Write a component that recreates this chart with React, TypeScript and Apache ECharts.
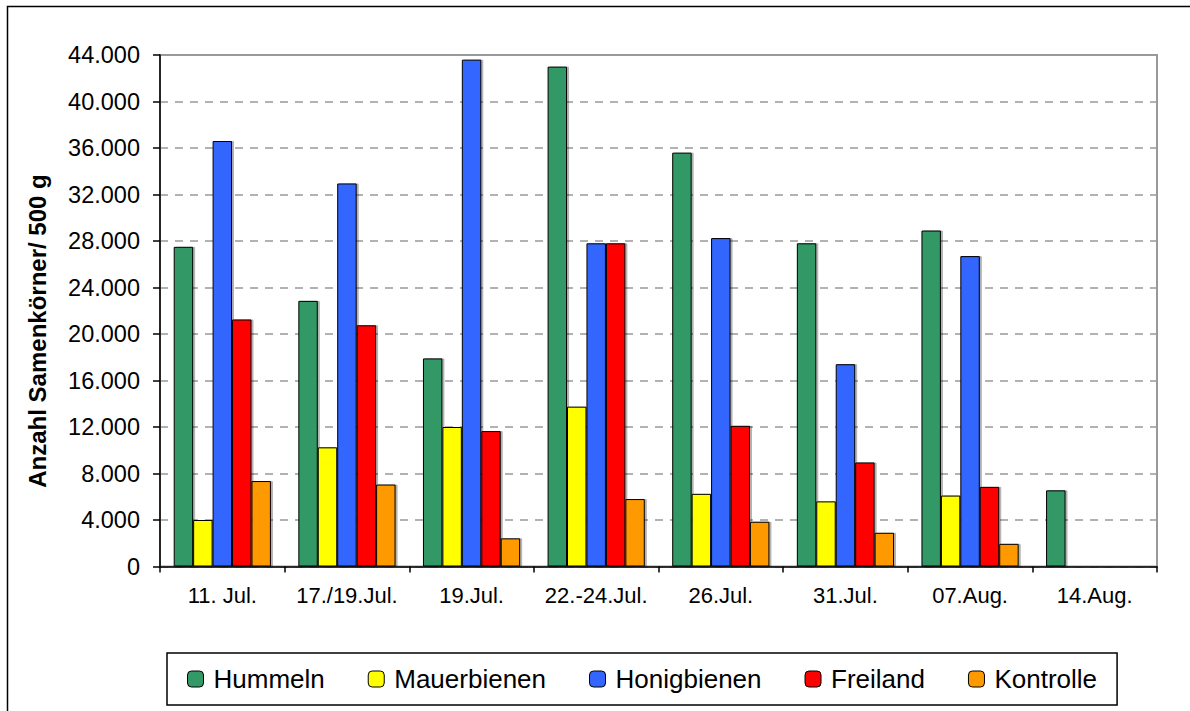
import React, { useEffect, useRef } from "react";
import * as echarts from "echarts";

const categories = ["11. Jul.", "17./19.Jul.", "19.Jul.", "22.-24.Jul.", "26.Jul.", "31.Jul.", "07.Aug.", "14.Aug."];
const hummeln = [27500, 22850, 17900, 43000, 35600, 27800, 28900, 6550];
const mauerbienen = [4000, 10250, 12000, 13750, 6250, 5600, 6100, null];
const honigbienen = [36600, 32950, 43600, 27800, 28250, 17400, 26700, null];
const freiland = [21250, 20750, 11650, 27800, 12100, 8950, 6850, null];
const kontrolle = [7350, 7050, 2420, 5800, 3850, 2900, 1950, null];

const seriesNames = ["Hummeln", "Mauerbienen", "Honigbienen", "Freiland", "Kontrolle"];
const seriesColors = ["#339966", "#FFFF00", "#3366FF", "#FF0000", "#FF9900"];
const seriesData = [hummeln, mauerbienen, honigbienen, freiland, kontrolle];

const yTicksMax = 44000;
const yTickStep = 4000;
const yAxisTitle = "Anzahl Samenkörner/ 500 g";

function fmt(v: number): string {
  if (v === 0) return "0";
  const s = String(Math.round(v));
  return s.replace(/\B(?=(\d{3})+(?!\d))/g, ".");
}

export default function App() {
  const ref = useRef<HTMLDivElement>(null);
  useEffect(() => {
    if (!ref.current) return;
    const chart = echarts.init(ref.current, undefined, { renderer: "svg" });
    const font = "Liberation Sans, Arial, sans-serif";
    chart.setOption({
      animation: false,
      backgroundColor: "#ffffff",
      textStyle: { fontFamily: font },
      grid: {
        left: 160,
        top: 55,
        right: 33,
        bottom: 144.5,
        show: true,
        borderColor: "#999999",
        borderWidth: 2,
        backgroundColor: "transparent",
      },
      graphic: [
        {
          type: "rect",
          shape: { x: 7.5, y: 6.5, width: 1200, height: 720 },
          style: { fill: "none", stroke: "#000", lineWidth: 1.5 },
          silent: true,
        },
        {
          type: "text",
          x: 37,
          y: 331,
          rotation: Math.PI / 2,
          style: {
            text: yAxisTitle,
            fontFamily: font,
            fontSize: 24,
            fontWeight: "bold",
            fill: "#000",
            textAlign: "center",
            textVerticalAlign: "middle",
          },
        },
      ],
      legend: {
        left: 167,
        top: 653,
        orient: "horizontal",
        padding: [13, 20, 13, 20],
        itemGap: 43,
        itemWidth: 16,
        itemHeight: 16,
        borderColor: "#000",
        borderWidth: 1.5,
        itemStyle: { borderColor: "#000", borderWidth: 1 },
        textStyle: { fontFamily: font, fontSize: 26, color: "#000", padding: [0, 0, 0, 5] },
        data: seriesNames,
      },
      xAxis: {
        type: "category",
        data: categories,
        axisLine: { lineStyle: { color: "#000", width: 1.5 } },
        axisTick: { show: true, interval: 0, length: 6, lineStyle: { color: "#000", width: 1.5 } },
        axisLabel: { interval: 0, fontFamily: font, fontSize: 22, color: "#000", margin: 18 },
      },
      yAxis: {
        type: "value",
        min: 0,
        max: yTicksMax,
        interval: yTickStep,
        axisLine: { show: true, lineStyle: { color: "#000", width: 1.5 } },
        axisTick: { show: true, length: 7, lineStyle: { color: "#000", width: 1.5 } },
        axisLabel: { fontFamily: font, fontSize: 23.5, color: "#000", margin: 20, formatter: (v: number) => fmt(v) },
        splitLine: { show: true, lineStyle: { color: "#999999", type: [8, 7], width: 1.5 } },
      },
      series: seriesNames.map((name, i) => ({
        name,
        type: "bar",
        data: seriesData[i],
        barGap: "0%",
        barCategoryGap: "22%",
        itemStyle: {
          color: seriesColors[i],
          borderColor: "#000",
          borderWidth: 1,
          shadowColor: "rgba(0,0,0,0.3)",
          shadowOffsetX: 2,
          shadowOffsetY: 0,
          shadowBlur: 0,
        },
      })),
    });
    return () => chart.dispose();
  }, []);
  return <div ref={ref} style={{ position: "fixed", left: 0, top: 0, width: 1190, height: 711, background: "#fff" }} />;
}
